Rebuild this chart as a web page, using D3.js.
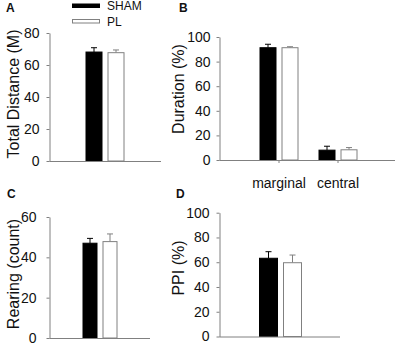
<!DOCTYPE html>
<html lang="en">
<head>
    <meta charset="UTF-8">
    <title>Open field, rearing and PPI</title>
    <script src="https://d3js.org/d3.v7.min.js" charset="utf-8"></script>
    <style>
        body { margin: 0; background: #fff; }
        svg { display: block; background: #fff; }
        text { font-family: "Liberation Sans", Arial, sans-serif; fill: #111; }
    </style>
</head>
<body>
    <div id="chart"></div>
    <script>
        // groups
        var series = ['SHAM', 'PL'];
        var seriesFill = ['#000000', '#ffffff'];
        var seriesStroke = ['#000000', '#808080'];

        // A - total distance
        var distCats = ['all'];
        var distSham = [68.1], distShamErr = [2.7];
        var distPL = [67.7], distPLErr = [1.7];
        var distTicks = [0, 20, 40, 60, 80];

        // B - duration
        var durCats = ['marginal', 'central'];
        var durSham = [91.3, 8.0], durShamErr = [2.8, 3.2];
        var durPL = [91.3, 8.3], durPLErr = [0.8, 1.8];
        var durTicks = [0, 20, 40, 60, 80, 100];

        // C - rearing
        var rearCats = ['all'];
        var rearSham = [47.0], rearShamErr = [2.4];
        var rearPL = [47.8], rearPLErr = [3.8];
        var rearTicks = [0, 20, 40, 60];

        // D - PPI
        var ppiCats = ['all'];
        var ppiSham = [63.2], ppiShamErr = [5.3];
        var ppiPL = [59.6], ppiPLErr = [6.2];
        var ppiTicks = [0, 20, 40, 60, 80, 100];

        var svg = d3.select('#chart').append('svg')
            .attr('width', 397)
            .attr('height', 345);

        function drawPanel(p) {
            var g = svg.append('g');

            var y = d3.scaleLinear()
                .domain([0, d3.max(p.ticks)])
                .range([p.y0, p.yTop]);

            var x = d3.scaleBand()
                .domain(p.cats)
                .range(p.band);

            var pairW = 2 * p.barW + p.gap;
            var inner = d3.scaleBand()
                .domain(series)
                .range([-pairW / 2, pairW / 2])
                .paddingInner(p.gap / (p.barW + p.gap));

            // rows of data: one per category per series
            var rows = [];
            p.cats.forEach(function(c, i) {
                series.forEach(function(s, j) {
                    rows.push({cat: c, s: s, j: j, v: p.means[j][i], e: p.errs[j][i]});
                });
            });

            var cx = d => x(d.cat) + x.bandwidth() / 2 + inner(d.s) + inner.bandwidth() / 2;

            // error bars (upper only)
            var eb = g.selectAll('.err').data(rows).enter().append('g');
            eb.append('line')
                .attr('x1', cx)
                .attr('x2', cx)
                .attr('y1', d => y(d.v))
                .attr('y2', d => y(d.v + d.e))
                .attr('stroke', d => seriesStroke[d.j]);
            eb.append('line')
                .attr('x1', d => cx(d) - 3)
                .attr('x2', d => cx(d) + 3)
                .attr('y1', d => y(d.v + d.e))
                .attr('y2', d => y(d.v + d.e))
                .attr('stroke', d => seriesStroke[d.j]);

            // bars
            g.selectAll('.bar').data(rows).enter().append('rect')
                .attr('x', d => x(d.cat) + x.bandwidth() / 2 + inner(d.s) + 0.5)
                .attr('y', d => y(d.v))
                .attr('width', inner.bandwidth() - 1)
                .attr('height', d => y(0) - y(d.v))
                .attr('fill', d => seriesFill[d.j])
                .attr('stroke', d => seriesStroke[d.j]);

            // y axis
            var yAxis = d3.axisLeft(y)
                .tickValues(p.ticks)
                .tickSize(3)
                .tickSizeOuter(0)
                .tickPadding(p.tickPad);
            var ya = g.append('g')
                .attr('transform', 'translate(' + p.axisX + ',0)')
                .call(yAxis);
            ya.select('.domain').attr('stroke', '#808080');
            ya.selectAll('.tick line').attr('stroke', '#808080');
            ya.selectAll('.tick text')
                .style('font-family', '"Liberation Sans", Arial, sans-serif')
                .style('font-size', '14px')
                .attr('fill', '#111');

            // x axis line
            g.append('line')
                .attr('x1', p.axisX)
                .attr('x2', p.xEnd)
                .attr('y1', p.y0 + 0.5)
                .attr('y2', p.y0 + 0.5)
                .attr('stroke', '#808080');

            if (p.showCats) {
                var xAxis = d3.axisBottom(x)
                    .tickSize(3)
                    .tickSizeOuter(0)
                    .tickPadding(15);
                var xa = g.append('g')
                    .attr('transform', 'translate(0,' + p.y0 + ')')
                    .call(xAxis);
                xa.select('.domain').remove();
                xa.selectAll('.tick line').attr('stroke', '#808080');
                xa.selectAll('.tick text')
                    .style('font-family', '"Liberation Sans", Arial, sans-serif')
                    .style('font-size', '14px')
                    .attr('fill', '#111');
            }

            // y label
            g.append('text')
                .attr('transform', 'translate(' + p.labelX + ',' + p.labelY + ') rotate(-90)')
                .attr('text-anchor', 'middle')
                .style('font-size', '16px')
                .text(p.label);

            // panel letter
            g.append('text')
                .attr('x', p.letterX)
                .attr('y', p.letterY)
                .style('font-size', '12px')
                .style('font-weight', 'bold')
                .text(p.letter);
        }

        drawPanel({
            letter: 'A', letterX: 6, letterY: 12,
            label: 'Total Distance (M)', labelX: 19, labelY: 94,
            cats: distCats, means: [distSham, distPL], errs: [distShamErr, distPLErr],
            ticks: distTicks, axisX: 49.5, xEnd: 161, y0: 161, yTop: 33,
            band: [49, 161], barW: 17, gap: 5, tickPad: 7
        });

        drawPanel({
            letter: 'B', letterX: 179, letterY: 12,
            label: 'Duration (%)', labelX: 184, labelY: 89,
            cats: durCats, means: [durSham, durPL], errs: [durShamErr, durPLErr],
            ticks: durTicks, axisX: 219.5, xEnd: 395, y0: 160, yTop: 37,
            band: [249.5, 367.5], barW: 17, gap: 5, tickPad: 6, showCats: true
        });

        drawPanel({
            letter: 'C', letterX: 7, letterY: 198,
            label: 'Rearing (count)', labelX: 19, labelY: 274,
            cats: rearCats, means: [rearSham, rearPL], errs: [rearShamErr, rearPLErr],
            ticks: rearTicks, axisX: 49.5, xEnd: 150, y0: 338, yTop: 217,
            band: [49, 151], barW: 15, gap: 5, tickPad: 10
        });

        drawPanel({
            letter: 'D', letterX: 176, letterY: 198,
            label: 'PPI (%)', labelX: 184, labelY: 268,
            cats: ppiCats, means: [ppiSham, ppiPL], errs: [ppiShamErr, ppiPLErr],
            ticks: ppiTicks, axisX: 219.5, xEnd: 340, y0: 336.5, yTop: 212.7,
            band: [220, 341], barW: 19, gap: 5, tickPad: 7
        });

        // legend
        var legend = svg.append('g').attr('transform', 'translate(72,0)');
        legend.selectAll('rect').data(series).enter().append('rect')
            .attr('x', 0.5)
            .attr('y', (d, i) => 4 + i * 15.5)
            .attr('width', 27)
            .attr('height', 3.5)
            .attr('fill', (d, i) => seriesFill[i])
            .attr('stroke', (d, i) => seriesStroke[i]);
        legend.selectAll('text').data(series).enter().append('text')
            .attr('x', 35)
            .attr('y', (d, i) => 10 + i * 15.5)
            .style('font-size', '12px')
            .text(d => d);
    </script>
</body>
</html>
